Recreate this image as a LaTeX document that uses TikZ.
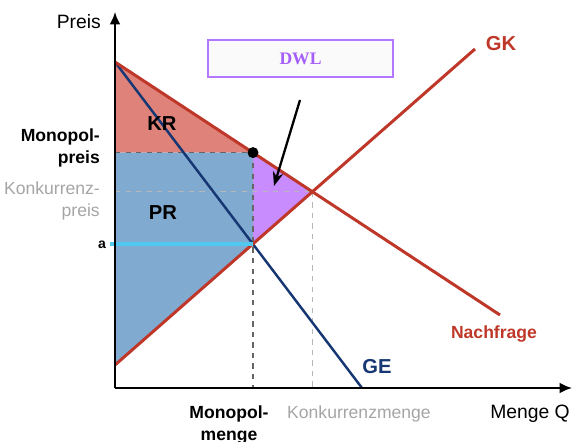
\documentclass[tikz,border=0pt]{standalone}
\usepackage{fontspec}
\setmainfont{Liberation Sans}
\newfontfamily\dwlfont{Liberation Serif}
\usepackage{tikz}
\usetikzlibrary{positioning,arrows.meta}

\definecolor{curvered}{RGB}{190,55,40}
\definecolor{gedark}{RGB}{22,55,115}
\definecolor{krfill}{RGB}{222,130,122}
\definecolor{prfill}{RGB}{128,170,208}
\definecolor{dwlfill}{RGB}{200,140,255}
\definecolor{dwlline}{RGB}{180,120,255}
\definecolor{dwltext}{RGB}{165,95,250}
\definecolor{alight}{RGB}{80,200,240}
\definecolor{konkgray}{RGB}{165,165,165}

\begin{document}
\begin{tikzpicture}[x=0.02cm, y=-0.02cm,
    curve/.style={line width=1.7pt, curvered},
    axis/.style={line width=1.1pt, -{Latex[length=7pt,width=6pt]}},
    lbl/.style={font=\bfseries\fontsize{10}{12}\selectfont, align=right},
    big/.style={font=\bfseries\fontsize{11.5}{13}\selectfont},
    plain/.style={font=\fontsize{11}{13}\selectfont},
    grey/.style={font=\fontsize{10}{12}\selectfont, konkgray, align=right},
    monodash/.style={dashed, gray!80!black, line width=0.6pt},
    konkdash/.style={dashed, konkgray!80, line width=0.6pt}]
    \useasboundingbox (0,0) rectangle (572,442);

    % Key points
    \coordinate (origin) at (115,388);
    \coordinate (ytop) at (115,12);
    \coordinate (xend) at (572,388);
    \coordinate (dstart) at (115,62);
    \coordinate (dend) at (500,315);
    \coordinate (gkstart) at (115,365);
    \coordinate (gkend) at (475,49);
    \coordinate (geend) at (362,388);
    \coordinate (mono) at (253,152.6);
    \coordinate (apt) at (253,244);
    \coordinate (konk) at (312.4,191.7);
    \coordinate (monoy) at (115,152.6);
    \coordinate (konky) at (115,191.7);
    \coordinate (monox) at (253,388);
    \coordinate (konkx) at (312.4,388);
    \coordinate (astart) at (110,244);

    % Areas
    \fill[krfill] (dstart) -- (mono) -- (monoy) -- cycle;
    \fill[prfill] (monoy) -- (mono) -- (apt) -- (gkstart) -- cycle;
    \fill[dwlfill] (mono) -- (konk) -- (apt) -- cycle;

    % Guide lines
    \draw[konkdash] (konky) -- (konk);
    \draw[konkdash] (konk) -- (konkx);
    \draw[monodash] (monoy) -- (mono);
    \draw[monodash] (mono) -- (monox);

    % Curves
    \draw[line width=1.4pt, gedark] (dstart) -- (geend);
    \draw[curve] (dstart) -- (dend);
    \draw[curve] (gkstart) -- (gkend);
    \draw[line width=2pt, alight] (astart) -- (apt);
    \fill (mono) circle (5.5);

    % Axes
    \draw[axis] (origin) -- (ytop);
    \draw[axis] (origin) -- (xend);

    % DWL box
    \node[draw=dwlline, line width=1pt, fill=gray!4, minimum width=185*0.02cm, minimum height=37*0.02cm,
        font=\dwlfont\bfseries\fontsize{10}{12}\selectfont, text=dwltext] (dwl) at (300.5,58.5) {DWL};
    \coordinate (arrtail) at (300,100);
    \coordinate (arrhead) at (274,186);
    \draw[line width=1.3pt, -{Stealth[length=8pt,width=6pt]}] (arrtail) -- (arrhead);

    % Labels
    \node[plain, anchor=east] (preis) at (107,22) {Preis};
    \node[plain] (menge) at (530,414) {Menge Q};
    \node[big, curvered] (gk) at (501,44) {GK};
    \node[lbl, curvered] (nachfrage) at (494,334) {Nachfrage};
    \node[big, gedark] (ge) at (377,367) {GE};
    \node[big] (kr) at (162,124) {KR};
    \node[big] (pr) at (163,213) {PR};
    \node[lbl, anchor=east] (monopreis) at (106,148) {Monopol-\\preis};
    \node[grey, anchor=east] (konkpreis) at (106,201) {Konkurrenz-\\preis};
    \node[font=\bfseries\fontsize{8}{10}\selectfont] (alabel) at (102,245) {a};
    \node[lbl, align=center] (monomenge) at (229,425) {Monopol-\\menge};
    \node[grey] (konkmenge) at (359,414) {Konkurrenzmenge};
\end{tikzpicture}
\end{document}
